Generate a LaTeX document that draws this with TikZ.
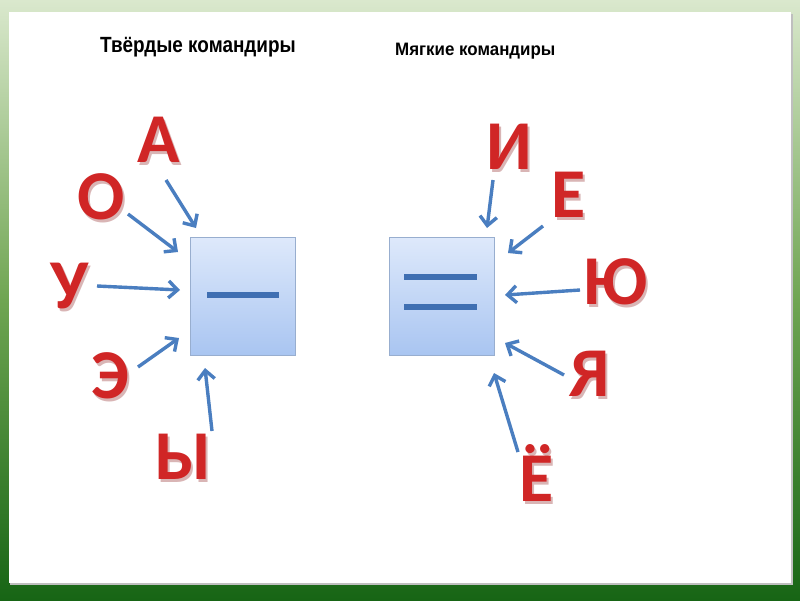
\documentclass[tikz,border=0pt]{standalone}
\usepackage{fontspec}
\setmainfont{Liberation Sans}
\newfontfamily\titlefont[FakeStretch=0.86]{Liberation Sans}
\newfontfamily\titlefontb[FakeStretch=0.94]{Liberation Sans}
\newfontfamily\letterfont{Carlito}
\usetikzlibrary{arrows.meta}
\definecolor{bgtop}{HTML}{DAE8CD}
\definecolor{bgmid}{HTML}{6FA552}
\definecolor{bgbot}{HTML}{176515}
\definecolor{arrowblue}{HTML}{4A7EC0}
\definecolor{dashblue}{HTML}{3F6FB2}
\definecolor{boxtop}{HTML}{DEE9FB}
\definecolor{boxbot}{HTML}{A9C5F1}
\definecolor{boxline}{HTML}{98AECF}
\definecolor{letterred}{HTML}{D02626}
\definecolor{lettershadow}{HTML}{D9B5B5}
\newcommand\shletter[1]{\makebox[0pt][l]{\hspace{2pt}\raisebox{-3pt}{\color{lettershadow}#1}}#1}
\tikzset{
  letter/.style={inner sep=0pt, font=\letterfont\bfseries\fontsize{70}{70}\selectfont, text=letterred},
  arr/.style={draw=arrowblue, line width=3.4pt, -{Straight Barb[length=9pt,width=17pt,line width=3.4pt]}},
  sbox/.style={draw=boxline, line width=0.8pt, top color=boxtop, bottom color=boxbot, minimum width=105pt, minimum height=118pt, inner sep=0pt},
  bar/.style={draw=dashblue, line width=5.5pt},
  title/.style={inner sep=0pt, anchor=base west, text=black}
}
\begin{document}
\begin{tikzpicture}[x=1pt,y=-1pt]
\useasboundingbox (0,0) rectangle (800,600);
\shade[top color=bgtop, bottom color=bgbot, middle color=bgmid] (0,0) rectangle (800,600);
\fill[black!25] (10,14) rectangle (793,585);
\fill[white] (9,12) rectangle (791,583);
% titles
\node[title, font=\titlefont\bfseries\fontsize{22}{22}\selectfont] (t1) at (100,52) {Твёрдые командиры};
\node[title, font=\titlefontb\bfseries\fontsize{18}{18}\selectfont] (t2) at (395,55) {Мягкие командиры};
% boxes
\node[sbox] (hard) at (242.5,296) {};
\node[sbox] (soft) at (441.5,296) {};
\coordinate (h1) at (207,295); \coordinate (h2) at (279,295);
\draw[bar] (h1) -- (h2);
\coordinate (s1) at (404,277); \coordinate (s2) at (477,277);
\coordinate (s3) at (404,307); \coordinate (s4) at (477,307);
\draw[bar] (s1) -- (s2);
\draw[bar] (s3) -- (s4);
% letters
\node[letter] (A) at (159,141) {\shletter{А}};
\node[letter] (O) at (101,198) {\shletter{О}};
\node[letter] (U) at (70,288) {\shletter{У}};
\node[letter] (E) at (110,377) {\shletter{Э}};
\node[letter] (Y) at (183,458) {\shletter{Ы}};
\node[letter] (I) at (509,148) {\shletter{И}};
\node[letter] (Ie) at (569,196) {\shletter{Е}};
\node[letter] (Yu) at (615,283) {\shletter{Ю}};
\node[letter] (Ya) at (590,375) {\shletter{Я}};
\node[letter] (Yo) at (537,475) {\shletter{Ё}};
% arrow ends
\coordinate (a1) at (166,180); \coordinate (a2) at (196,228);
\coordinate (o1) at (128,214); \coordinate (o2) at (178,252);
\coordinate (u1) at (97,286);  \coordinate (u2) at (180,290);
\coordinate (e1) at (138,367); \coordinate (e2) at (179,338);
\coordinate (y1) at (212,431); \coordinate (y2) at (205,368);
\coordinate (i1) at (493,180); \coordinate (i2) at (487,228);
\coordinate (ie1) at (543,226); \coordinate (ie2) at (508,253);
\coordinate (yu1) at (580,290); \coordinate (yu2) at (505,295);
\coordinate (ya1) at (564,375); \coordinate (ya2) at (505,343);
\coordinate (yo1) at (518,452); \coordinate (yo2) at (494,373);
\draw[arr] (a1) -- (a2);
\draw[arr] (o1) -- (o2);
\draw[arr] (u1) -- (u2);
\draw[arr] (e1) -- (e2);
\draw[arr] (y1) -- (y2);
\draw[arr] (i1) -- (i2);
\draw[arr] (ie1) -- (ie2);
\draw[arr] (yu1) -- (yu2);
\draw[arr] (ya1) -- (ya2);
\draw[arr] (yo1) -- (yo2);
\end{tikzpicture}
\end{document}
